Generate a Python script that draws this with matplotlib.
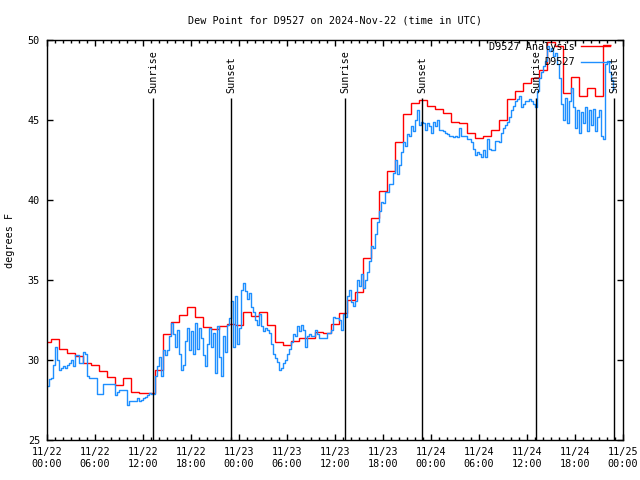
import numpy as np
import matplotlib
matplotlib.use("Agg")
import matplotlib.pyplot as plt

# ---- data ----
title = "Dew Point for D9527 on 2024-Nov-22 (time in UTC)"
ylabel = "degrees F"
series_names = ["D9527 Analysis", "D9527"]

# hourly analysis values (hours 0..70 from 11/22 00:00 UTC)
analysis = [31.1, 31.3, 30.67, 30.42, 30.25, 29.83, 29.69, 29.33, 28.92, 28.42,
            28.85, 28.0, 27.92, 27.92, 29.4, 31.6, 32.35, 32.8, 33.3, 32.7,
            32.04, 31.94, 32.15, 32.25, 32.17, 32.97, 32.77, 33.0, 32.19, 31.1,
            30.92, 31.19, 31.35, 31.4, 31.73, 31.67, 32.25, 32.92, 33.75, 34.27,
            36.4, 38.9, 40.58, 41.81, 43.6, 45.375, 46.04, 46.25, 45.9, 45.67,
            45.42, 44.85, 44.79, 44.2, 43.9, 44.0, 44.35, 45.0, 46.3, 46.8,
            47.29, 47.65, 48.15, 49.85, 49.6, 46.7, 47.67, 46.5, 46.98, 46.5,
            49.7]

# observations every 15 minutes (hours 0..70.75)
obs = [28.4, 28.8, 28.9, 29.7,  30.8, 30.0, 29.4, 29.5,  29.6, 29.5, 29.7, 29.8,
       30.0, 29.6, 30.3, 30.3,  29.8, 29.8, 30.5, 30.4,  29.0, 28.85, 28.85, 28.85,
       28.85, 27.9, 27.9, 27.9,  28.5, 28.5, 28.5, 28.5,  28.5, 28.5, 27.8, 28.0,
       28.1, 28.1, 28.1, 28.1,  27.2, 27.45, 27.45, 27.45,  27.45, 27.6, 27.45, 27.5,
       27.6, 27.7, 27.8, 27.95,  27.9, 27.85, 29.0, 29.6,  30.2, 29.0, 30.6, 30.3,
       30.6, 31.5, 32.3, 31.6,  30.8, 31.9, 30.4, 29.4,  29.7, 31.2, 32.0, 30.6,
       31.8, 30.4, 32.3, 30.7,  32.0, 31.4, 30.3, 29.6,  31.0, 32.0, 30.8, 31.7,
       29.2, 32.1, 30.2, 29.0,  31.5, 30.5, 32.2, 32.6,  33.7, 30.8, 34.0, 31.0,
       32.0, 34.4, 34.8, 34.3,  33.8, 34.2, 33.3, 33.0,  32.5, 32.2, 32.9, 32.1,
       31.8, 32.0, 31.9, 31.7,  31.0, 30.4, 30.1, 29.9,  29.4, 29.5, 29.8, 30.0,
       30.4, 30.7, 31.1, 31.6,  31.5, 32.1, 31.8, 32.2,  31.9, 30.8, 31.5, 31.6,
       31.5, 31.5, 31.9, 31.6,  31.4, 31.4, 31.4, 31.4,  31.7, 31.7, 31.9, 32.7,
       32.6, 32.6, 32.5, 31.9,  32.9, 32.7, 34.0, 34.4,  33.6, 33.4, 33.7, 35.0,
       34.6, 35.4, 34.5, 35.0,  35.5, 36.2, 37.1, 37.0,  37.9, 38.6, 39.3, 39.9,
       39.8, 40.5, 40.5, 41.0,  41.0, 41.7, 42.5, 41.6,  42.2, 43.0, 43.6, 43.4,
       44.1, 44.0, 44.6, 44.3,  45.0, 45.6, 44.7, 44.9,  44.8, 44.4, 44.8, 44.6,
       44.2, 44.9, 44.6, 45.0,  44.4, 44.4, 44.3, 44.2,  44.1, 44.0, 44.0, 43.96,
       44.0, 43.96, 44.5, 44.0,  44.0, 44.0, 43.8, 43.8,  43.6, 43.2, 42.8, 43.0,
       42.9, 42.7, 43.1, 42.7,  43.8, 43.2, 43.1, 43.1,  43.7, 43.7, 43.6, 44.2,
       44.5, 44.7, 44.9, 45.2,  45.6, 45.9, 46.2, 46.3,  46.5, 45.8, 46.0, 46.2,
       46.2, 46.3, 46.2, 46.0,  45.8, 46.8, 47.6, 48.0,  48.4, 48.7, 49.6, 49.3,
       49.5, 49.0, 49.2, 48.5,  47.6, 46.0, 45.0, 46.4,  44.8, 46.2, 47.0, 45.8,
       44.5, 45.6, 44.2, 45.5,  44.8, 45.8, 44.3, 45.6,  44.7, 45.7, 44.3, 45.2,
       45.6, 44.0, 43.8, 48.5,  48.7, 48.0, 47.5, 46.9]

# sun events (hours from 11/22 00:00 UTC)
event_times = [13.25, 23.0, 37.25, 46.875, 61.125, 70.875]
event_labels = ["Sunrise", "Sunset", "Sunrise", "Sunset", "Sunrise", "Sunset"]

xtick_hours = list(range(0, 73, 6))
xtick_labels = ["11/22\n00:00", "11/22\n06:00", "11/22\n12:00", "11/22\n18:00",
                "11/23\n00:00", "11/23\n06:00", "11/23\n12:00", "11/23\n18:00",
                "11/24\n00:00", "11/24\n06:00", "11/24\n12:00", "11/24\n18:00",
                "11/25\n00:00"]
yticks = [25, 30, 35, 40, 45, 50]

# ---- plot ----
plt.rcParams['font.family'] = ['DejaVu Sans Mono']
FS = 7.3

fig = plt.figure(figsize=(6.4, 4.8), dpi=100)
ax = fig.add_axes([47/640, 1 - 440/480, 576/640, 400/480])

an = np.asarray(analysis)
edges = np.arange(len(an) + 1) - 0.5
ax.stairs(an, edges, baseline=None, color='#ff0000', lw=1.0, label=series_names[0])

ob = np.asarray(obs)
t_obs = np.arange(len(ob)) * 0.25
ax.plot(t_obs, ob, drawstyle='steps-post', color='#1e8fff', lw=1.0, label=series_names[1])

line_top = 46.4
ax.vlines(event_times, 25, line_top, color='black', lw=1.0)
for t, lab in zip(event_times, event_labels):
    ax.text(t, 46.7, lab, rotation=90, ha='center', va='bottom', fontsize=FS)

ax.set_xlim(0, 72)
ax.set_ylim(25, 50)
ax.set_xticks(xtick_hours)
ax.set_xticklabels(xtick_labels, fontsize=FS, linespacing=1.25)
ax.set_xticks(np.arange(0, 73, 1), minor=True)
ax.set_yticks(yticks)
ax.set_yticklabels([str(v) for v in yticks], fontsize=FS)
ax.tick_params(which='major', direction='in', length=4.5, width=1, top=True, right=True, pad=5)
ax.tick_params(which='minor', direction='in', length=2.5, width=1, top=True, right=True)
for s in ax.spines.values():
    s.set_linewidth(1.0)

ax.set_title(title, fontsize=FS, pad=12)
ax.set_ylabel(ylabel, fontsize=FS, labelpad=9)

ax.legend(loc='upper right', bbox_to_anchor=(0.981, 1.0), frameon=False,
          markerfirst=False, fontsize=FS, handlelength=2.9, handletextpad=0.6,
          borderaxespad=0, labelspacing=0.5, borderpad=0.2)

fig.savefig("out.png", dpi=100)
